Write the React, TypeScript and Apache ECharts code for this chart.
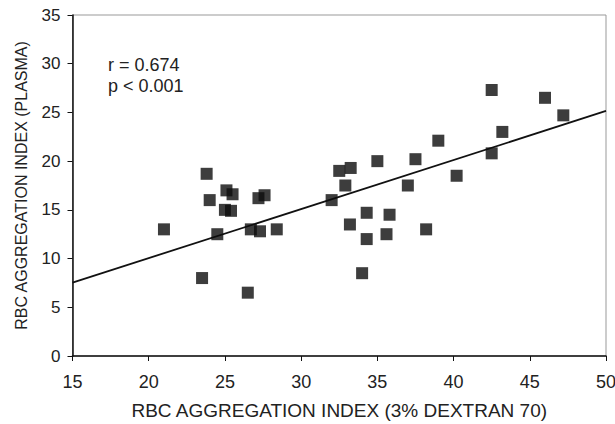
import React, { useEffect, useRef } from "react";
import * as echarts from "echarts";

const xTicks = [15, 20, 25, 30, 35, 40, 45, 50];
const yTicks = [0, 5, 10, 15, 20, 25, 30, 35];

const pointsX = [
  21.0, 23.5, 23.8, 24.0, 24.5, 25.1, 25.5, 25.0, 25.4, 26.5, 26.7, 27.3,
  27.2, 27.6, 28.4, 32.0, 42.5, 46.0, 47.2, 43.2, 39.0, 42.5, 37.5, 35.0,
  33.25, 32.5, 32.9, 37.0, 40.2, 34.3, 35.8, 33.2, 34.3, 35.6, 38.2, 34.0,
];
const pointsY = [
  13.0, 8.0, 18.7, 16.0, 12.5, 17.0, 16.6, 15.0, 14.9, 6.5, 13.0, 12.8,
  16.2, 16.5, 13.0, 16.0, 27.3, 26.5, 24.7, 23.0, 22.1, 20.8, 20.2, 20.0,
  19.3, 19.0, 17.5, 17.5, 18.5, 14.7, 14.5, 13.5, 12.0, 12.5, 13.0, 8.5,
];
const fitX = [15, 50];
const fitY = [7.53, 25.15];
const statLines = ["r = 0.674", "p < 0.001"];
const xTitle = "RBC AGGREGATION INDEX (3% DEXTRAN 70)";
const yTitle = "RBC AGGREGATION INDEX (PLASMA)";

export default function App() {
  const ref = useRef<HTMLDivElement>(null);
  useEffect(() => {
    const chart = echarts.init(ref.current!, null, { renderer: "svg" });
    const font = "Liberation Sans, Arial, sans-serif";
    chart.setOption({
      animation: false,
      backgroundColor: "#fff",
      grid: {
        left: 72.5,
        right: 9,
        top: 15,
        bottom: 68,
        show: true,
        borderColor: "#999",
        borderWidth: 1,
        containLabel: false,
        outerBoundsMode: "none",
      },
      xAxis: {
        type: "value",
        min: xTicks[0],
        max: xTicks[xTicks.length - 1],
        interval: 5,
        name: xTitle,
        nameLocation: "middle",
        nameGap: 45,
        nameTextStyle: { fontFamily: font, fontSize: 19, color: "#222" },
        axisLine: { show: true, lineStyle: { color: "#111", width: 1.5 } },
        axisTick: { show: true, length: 5, lineStyle: { color: "#111" } },
        axisLabel: { fontFamily: font, fontSize: 18, color: "#222", margin: 17 },
        splitLine: { show: false },
      },
      yAxis: {
        type: "value",
        min: yTicks[0],
        max: yTicks[yTicks.length - 1],
        interval: 5,
        name: yTitle,
        nameLocation: "middle",
        nameGap: 43,
        nameTextStyle: { fontFamily: font, fontSize: 16, color: "#222" },
        axisLine: { show: true, lineStyle: { color: "#111", width: 1.5 } },
        axisTick: { show: true, length: 5, lineStyle: { color: "#111" } },
        axisLabel: { fontFamily: font, fontSize: 17, color: "#222", margin: 12 },
        splitLine: { show: false },
      },
      graphic: [
        {
          type: "text",
          left: 108,
          top: 54,
          style: {
            text: statLines.join("\n"),
            fontFamily: font,
            fontSize: 18,
            lineHeight: 21,
            fill: "#222",
          },
        },
      ],
      series: [
        {
          type: "line",
          data: fitX.map((x, i) => [x, fitY[i]]),
          showSymbol: false,
          lineStyle: { color: "#111", width: 1.8 },
          z: 2,
        },
        {
          type: "scatter",
          data: pointsX.map((x, i) => [x, pointsY[i]]),
          symbol: "rect",
          symbolSize: 12,
          itemStyle: { color: "#0d0d0d" },
          z: 3,
        },
      ],
    });
    return () => chart.dispose();
  }, []);
  return (
    <div
      ref={ref}
      style={{ position: "fixed", left: 0, top: 0, width: 615, height: 424 }}
    />
  );
}
